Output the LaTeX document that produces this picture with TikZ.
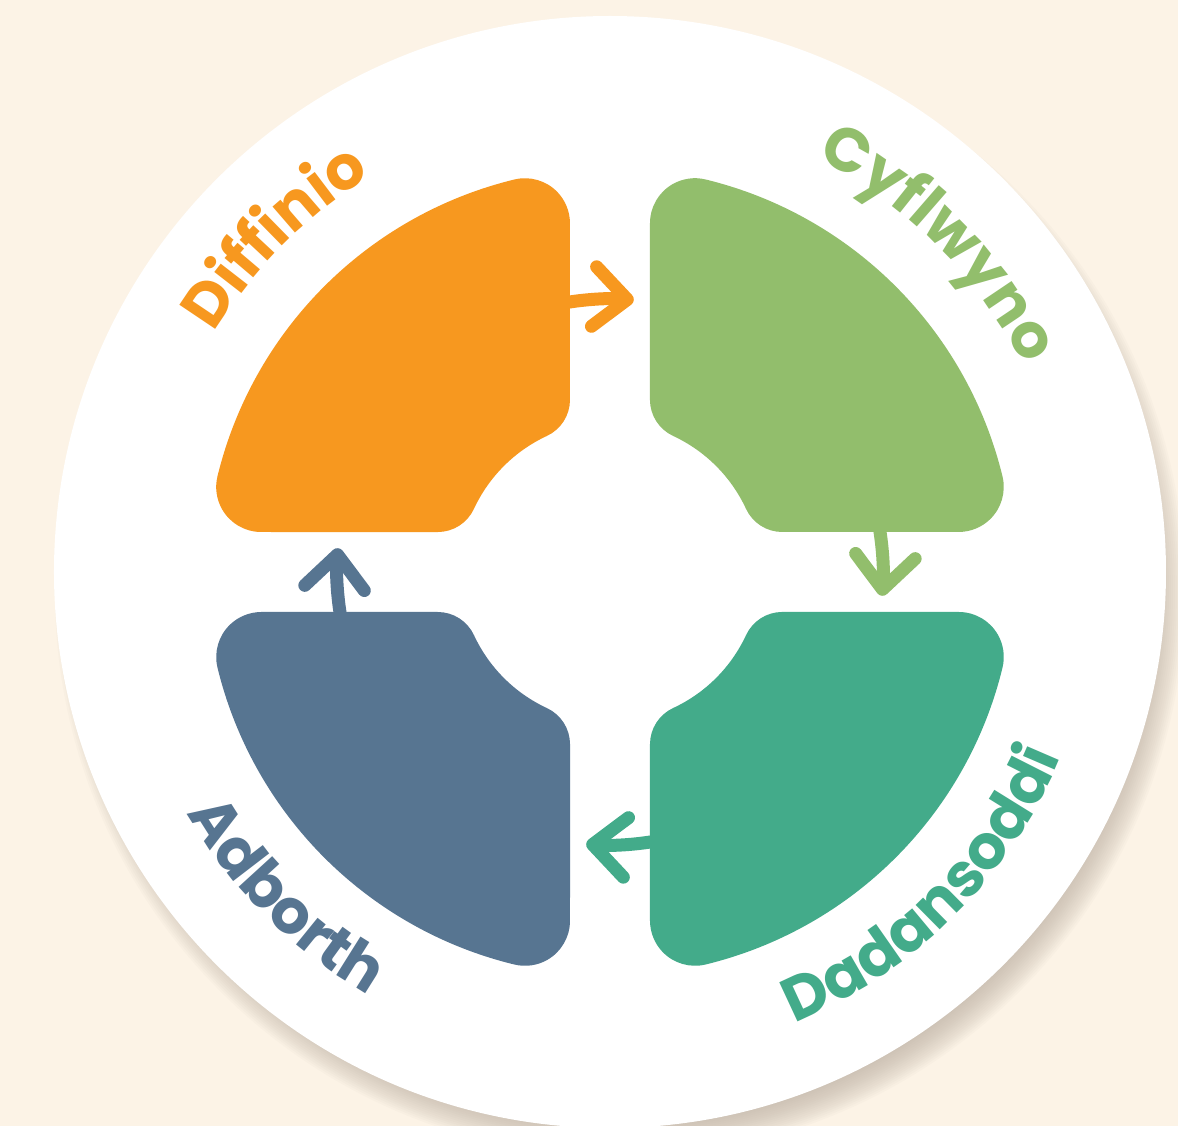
\documentclass[tikz,border=0pt]{standalone}
\usepackage{fontspec}
\usepackage{tikz}
\usetikzlibrary{arrows.meta, decorations.text}

\newfontfamily\labelfam{Poppins Bold}
\newcommand{\lblfont}{\fontsize{35}{40}\selectfont\labelfam}

\definecolor{bgcream}{HTML}{FCF3E6}
\definecolor{shadowcol}{HTML}{B4A89B}
\definecolor{diffcol}{HTML}{F7981F}
\definecolor{cyflcol}{HTML}{92BE6C}
\definecolor{dadacol}{HTML}{43AB8A}
\definecolor{adbcol}{HTML}{577591}

\tikzset{
	cyclearrow/.style={line width=7.4pt, line cap=round,
		-{Straight Barb[length=19pt, width=34pt, line cap=round, line join=round]}},
	toplabel/.style={decorate, decoration={text along path, text align=center,
		text color=#1}},
}

% one quarter piece, drawn top left and turned for the others
\newcommand{\petal}[2]{%
	\fill[#1, rotate=#2] (-40,348.8) -- (-40,172.3)
		arc[start angle=0, end angle=-65.1, radius=40]
		arc[start angle=114.9, end angle=155.1, radius=150]
		arc[start angle=-24.9, end angle=-90, radius=40]
		-- (-348.8,40)
		arc[start angle=-90, end angle=-193.7, radius=45]
		arc[start angle=166.3, end angle=103.7, radius=404]
		arc[start angle=103.7, end angle=0, radius=45] -- cycle;}

\begin{document}
\begin{tikzpicture}[x=0.02cm, y=0.02cm]
	\useasboundingbox (-610,-554) rectangle (568,572);
	\clip (-610,-554) rectangle (568,572);
	\fill[bgcream] (-610,-554) rectangle (568,572);

	% shadow and disc
	\foreach \k in {0,...,15}
		\fill[shadowcol, opacity=0.05] (10,-20) circle[radius={565-2*\k}];
	\fill[white] (0,0) circle[radius=556];

	\petal{diffcol}{0}
	\petal{cyflcol}{-90}
	\petal{dadacol}{180}
	\petal{adbcol}{90}

	\coordinate (diffout) at (100:273);
	\coordinate (cyflout) at (10:273);
	\coordinate (dadaout) at (-80:273);
	\coordinate (adbout) at (190:273);
	\draw[cyclearrow, diffcol] (diffout) arc[start angle=100, end angle=85, radius=273];
	\draw[cyclearrow, cyflcol] (cyflout) arc[start angle=10, end angle=-5, radius=273];
	\draw[cyclearrow, dadacol] (dadaout) arc[start angle=-80, end angle=-95, radius=273];
	\draw[cyclearrow, adbcol] (adbout) arc[start angle=190, end angle=175, radius=273];

	\path[toplabel=diffcol, decoration={text={|\lblfont|Diffinio}}]
		(180:462) arc[start angle=180, end angle=90, radius=462];
	\path[toplabel=cyflcol, decoration={text={|\lblfont|Cyflwyno}}]
		(90:462) arc[start angle=90, end angle=0, radius=462];
	\path[toplabel=dadacol, decoration={text={|\lblfont|Dadansoddi}}]
		(270:487) arc[start angle=270, end angle=360, radius=487];
	\path[toplabel=adbcol, decoration={text={|\lblfont|Adborth}}]
		(180:487) arc[start angle=180, end angle=270, radius=487];
\end{tikzpicture}
\end{document}
